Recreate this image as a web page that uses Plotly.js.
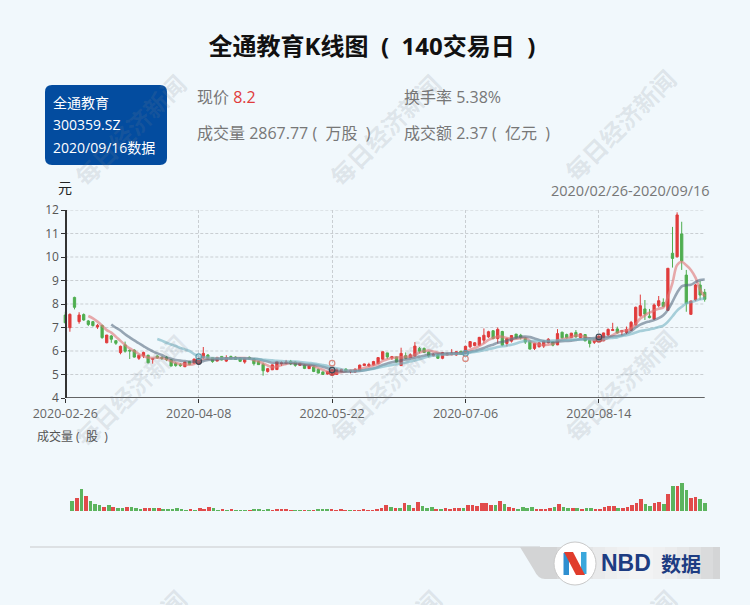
<!DOCTYPE html>
<html><head><meta charset="utf-8">
<script src="https://cdn.plot.ly/plotly-3.0.1.min.js"></script>
<style>html,body{margin:0;padding:0;background:#f1f8fc}#c{width:750px;height:605px}</style>
</head><body><div id="c"></div>
<script>
const tickIdx=[0,29,58,87,116];
const tickLabels=['2020-02-26','2020-04-08','2020-05-22','2020-07-06','2020-08-14'];
const priceTicks=[4,5,6,7,8,9,10,11,12];
const open=[7.53,6.99,8.28,7.25,7.55,7.28,7.25,7.02,7.09,6.35,6.64,6.44,5.93,6.26,6.03,6.04,5.69,5.79,5.82,5.65,
5.79,5.73,5.74,5.63,5.47,5.42,5.33,5.55,5.48,5.48,5.72,5.83,5.72,5.57,5.77,5.57,5.77,5.74,5.7,5.53,
5.73,5.67,5.55,5.43,5.13,5.2,5.21,5.46,5.48,5.56,5.53,5.39,5.4,5.25,5.32,5.22,5.11,5.02,4.98,5.0,
5.12,5.23,5.13,5.11,5.16,5.38,5.36,5.4,5.46,5.65,5.92,5.7,5.75,5.38,5.8,5.72,5.79,6.11,6.11,5.96,
5.8,5.84,5.69,5.83,5.84,5.83,5.99,5.9,6.18,6.23,6.25,6.46,6.6,6.86,6.53,6.83,6.32,6.42,6.72,6.67,
6.53,6.43,6.11,6.18,6.21,6.35,6.39,6.26,6.8,6.7,6.57,6.79,6.57,6.7,6.46,6.37,6.4,6.43,6.68,6.87,
6.94,6.82,6.79,6.88,7.11,7.5,7.79,7.49,7.36,7.93,8.07,7.73,10.16,10.01,10.98,9.23,7.56,8.17,8.81,8.5];
const high=[7.67,7.6,8.31,7.65,7.6,7.32,7.28,7.15,7.12,6.68,6.68,6.44,6.23,6.4,6.07,6.07,5.82,5.97,5.84,5.67,
5.82,5.77,5.79,5.65,5.52,5.49,5.53,5.55,5.66,5.7,6.17,5.87,5.74,5.73,5.78,5.82,5.8,5.77,5.73,5.7,
5.77,5.7,5.57,5.5,5.28,5.43,5.58,5.56,5.62,5.62,5.55,5.5,5.42,5.37,5.35,5.25,5.13,5.14,5.25,5.25,
5.24,5.26,5.2,5.25,5.42,5.46,5.5,5.58,5.72,5.97,5.92,5.79,5.76,6.14,5.94,5.9,6.38,6.17,6.15,5.97,
5.9,5.87,5.96,5.92,6.08,5.99,6.0,6.22,6.42,6.38,6.6,6.96,6.86,6.89,7.0,6.86,6.57,6.67,6.72,6.73,
6.57,6.45,6.35,6.37,6.44,6.55,6.39,6.93,6.82,6.74,6.77,6.89,6.75,6.72,6.46,6.5,6.7,6.78,6.96,7.2,
7.04,6.87,7.04,7.28,7.89,8.4,8.17,7.79,8.03,8.34,8.24,9.52,11.28,11.9,11.5,9.45,8.13,8.85,8.98,8.64];
const low=[7.18,6.82,7.77,7.16,7.29,7.06,7.04,6.94,6.52,6.33,6.35,6.26,5.86,5.93,5.66,5.72,5.62,5.7,5.47,5.46,
5.67,5.62,5.57,5.35,5.33,5.32,5.32,5.4,5.46,5.42,5.66,5.65,5.5,5.57,5.6,5.53,5.65,5.63,5.53,5.46,
5.62,5.38,5.42,4.95,5.08,5.19,5.19,5.36,5.43,5.4,5.33,5.38,5.23,5.24,5.1,5.05,4.99,5.0,4.97,4.99,
5.1,5.11,5.05,5.1,5.15,5.37,5.33,5.38,5.45,5.62,5.66,5.62,5.52,5.38,5.65,5.7,5.76,5.9,5.92,5.73,
5.77,5.66,5.65,5.8,5.82,5.8,5.84,5.88,6.12,6.2,6.22,6.32,6.56,6.5,6.32,6.2,6.2,6.36,6.5,6.49,
6.3,6.07,6.04,6.15,6.13,6.32,6.2,6.25,6.53,6.53,6.55,6.57,6.55,6.42,6.15,6.3,6.38,6.42,6.65,6.85,
6.74,6.65,6.72,6.85,7.08,7.46,7.32,7.39,7.32,7.86,7.86,7.7,9.55,9.98,9.45,7.67,7.54,8.12,8.17,8.1];
const close=[7.2,7.56,7.86,7.53,7.32,7.13,7.08,7.09,6.57,6.68,6.5,6.33,6.2,5.99,6.0,5.74,5.82,5.94,5.5,5.67,
5.7,5.69,5.63,5.36,5.38,5.38,5.53,5.43,5.66,5.65,5.9,5.67,5.55,5.73,5.62,5.72,5.67,5.64,5.56,5.7,
5.66,5.46,5.42,5.16,5.25,5.41,5.55,5.5,5.53,5.45,5.39,5.48,5.26,5.36,5.13,5.06,5.0,5.12,5.16,5.23,
5.22,5.13,5.18,5.23,5.4,5.45,5.43,5.55,5.72,5.97,5.75,5.76,5.53,5.9,5.69,5.84,6.21,5.99,5.94,5.79,
5.86,5.69,5.93,5.89,5.91,5.97,5.86,6.2,6.4,6.35,6.58,6.67,6.82,6.53,6.92,6.25,6.53,6.66,6.56,6.57,
6.38,6.08,6.32,6.35,6.42,6.5,6.25,6.74,6.56,6.56,6.76,6.6,6.73,6.43,6.32,6.5,6.61,6.77,6.92,6.91,
6.77,6.87,6.92,7.22,7.86,7.93,7.57,7.42,7.96,8.14,7.89,9.52,9.94,11.79,9.83,8.03,8.13,8.81,8.38,8.2];
const ma5=[null,null,null,null,null,7.49,7.39,7.25,7.08,6.89,6.78,6.61,6.43,6.26,6.11,6.0,5.87,5.79,5.72,5.7,
5.72,5.7,5.65,5.57,5.5,5.45,5.43,5.42,5.45,5.57,5.66,5.67,5.68,5.67,5.68,5.68,5.69,5.7,5.7,5.7,
5.68,5.62,5.56,5.47,5.38,5.31,5.34,5.4,5.45,5.5,5.49,5.48,5.44,5.41,5.36,5.27,5.2,5.13,5.1,5.08,
5.1,5.14,5.17,5.18,5.21,5.28,5.33,5.38,5.45,5.58,5.65,5.7,5.73,5.73,5.75,5.76,5.84,5.93,6.0,6.02,
5.98,5.93,5.87,5.84,5.87,5.9,5.91,5.96,6.05,6.12,6.22,6.33,6.47,6.55,6.62,6.6,6.55,6.52,6.52,6.55,
6.55,6.43,6.35,6.28,6.25,6.27,6.31,6.42,6.5,6.54,6.59,6.66,6.65,6.6,6.52,6.47,6.43,6.48,6.56,6.68,
6.78,6.85,6.88,6.95,7.15,7.38,7.52,7.63,7.72,7.8,7.85,8.3,8.9,9.66,9.8,9.65,9.45,9.12,8.6,8.32];
const ma10=[null,null,null,null,null,null,null,null,null,null,7.13,6.99,6.87,6.71,6.58,6.45,6.33,6.21,6.09,5.99,
5.9,5.83,5.73,5.67,5.62,5.59,5.57,5.55,5.55,5.54,5.57,5.62,5.63,5.65,5.67,5.68,5.68,5.69,5.69,5.68,
5.68,5.67,5.65,5.6,5.55,5.5,5.5,5.49,5.49,5.49,5.47,5.44,5.42,5.41,5.41,5.38,5.33,5.27,5.19,5.15,
5.13,5.12,5.12,5.13,5.15,5.18,5.22,5.26,5.32,5.41,5.47,5.52,5.56,5.6,5.64,5.67,5.71,5.76,5.8,5.84,
5.87,5.88,5.89,5.9,5.9,5.9,5.9,5.91,5.96,6.0,6.06,6.13,6.21,6.27,6.35,6.39,6.44,6.5,6.56,6.6,
6.61,6.59,6.53,6.47,6.42,6.4,6.38,6.4,6.42,6.43,6.44,6.47,6.5,6.52,6.54,6.55,6.58,6.59,6.6,6.62,
6.64,6.67,6.74,6.84,7.0,7.12,7.2,7.26,7.32,7.4,7.52,7.75,8.1,8.48,8.75,8.8,8.82,8.93,9.02,9.04];
const ma20=[null,null,null,null,null,null,null,null,null,null,null,null,null,null,null,null,null,null,null,null,
6.51,6.44,6.35,6.28,6.21,6.13,6.07,6.0,5.87,5.77,5.74,5.72,5.7,5.69,5.68,5.68,5.68,5.68,5.68,5.68,
5.67,5.66,5.66,5.63,5.62,5.6,5.58,5.57,5.56,5.55,5.55,5.53,5.51,5.49,5.47,5.44,5.4,5.36,5.3,5.26,
5.22,5.18,5.17,5.16,5.16,5.18,5.21,5.25,5.29,5.33,5.37,5.41,5.44,5.47,5.51,5.55,5.6,5.65,5.71,5.77,
5.8,5.82,5.84,5.85,5.87,5.88,5.89,5.9,5.93,5.96,5.99,6.03,6.08,6.12,6.17,6.2,6.23,6.27,6.32,6.38,
6.42,6.42,6.42,6.42,6.42,6.43,6.44,6.46,6.47,6.47,6.48,6.49,6.49,6.5,6.5,6.49,6.48,6.5,6.54,6.56,
6.58,6.64,6.67,6.72,6.79,6.85,6.88,6.92,6.96,7.02,7.08,7.25,7.48,7.72,7.88,8.03,8.08,8.14,8.2,8.24];
const volume=[3875,4750,8250,5375,3750,2500,2250,1375,2250,1625,1125,1250,1500,1375,1250,875,1000,1250,1250,1000,
750,750,625,1000,625,500,750,500,1000,875,1625,1000,500,625,500,625,500,375,500,500,
625,875,500,875,500,875,875,875,500,375,375,375,500,375,750,875,750,625,500,875,
500,375,375,375,875,500,500,750,1250,2125,1625,1125,1125,3125,2125,1250,3375,1750,1125,1375,
750,750,1000,750,1250,1250,1125,2125,2250,1750,2875,2875,2250,2125,3625,2500,1500,1250,875,1375,
1000,1375,875,750,875,1000,1375,2500,1500,1125,1125,1125,750,1000,1000,625,625,1375,1750,1875,
1250,1125,1375,2250,3000,4500,2625,2000,2875,3250,2500,6375,9250,9250,10375,7750,4750,5125,4375,2868];
const ringIdx5=[29,58,116], ringVal5=[5.57,5.08,6.5];
const ringIdx10=[29,58,116], ringVal10=[5.55,5.19,6.6];
const ringIdx20=[29,87], ringVal20=[5.76,5.9];
const ringIdxExtra=[58,87], ringValExtra=[5.48,5.67];

const RED='#e03c3c', GREEN='#4fae50', W=750, H=605;
const days=close.map((_,i)=>i);
const px=x=>x/W, py=y=>1-y/H;

const lineTrace=(y,c)=>({type:'scatter',mode:'lines',x:days,y:y,xaxis:'x',yaxis:'y',hoverinfo:'skip',connectgaps:false,
  line:{color:c,width:2.6,shape:'spline',smoothing:1}});
const ringTrace=(x,y,c)=>({type:'scatter',mode:'markers',x:x,y:y,xaxis:'x',yaxis:'y',hoverinfo:'skip',
  marker:{symbol:'circle-open',size:5.5,color:c,line:{color:c,width:1.2}}});
const traces=[
 {type:'candlestick',x:days,open:open,high:high,low:low,close:close,xaxis:'x',yaxis:'y',hoverinfo:'skip',whiskerwidth:0,
  increasing:{line:{color:RED,width:1},fillcolor:RED},decreasing:{line:{color:GREEN,width:1},fillcolor:GREEN}},
 lineTrace(ma5,'rgba(222,120,120,0.62)'),
 lineTrace(ma10,'rgba(85,105,125,0.58)'),
 lineTrace(ma20,'rgba(120,180,195,0.62)'),
 ringTrace(ringIdx5,ringVal5,'#c05050'),
 ringTrace(ringIdx10,ringVal10,'#3d4b58'),
 ringTrace(ringIdx20,ringVal20,'#5f9fae'),
 ringTrace(ringIdxExtra,ringValExtra,'#d98a80'),
 {type:'bar',x:days,y:volume,xaxis:'x2',yaxis:'y2',hoverinfo:'skip',width:0.8,
  marker:{color:close.map((c,i)=>c>=open[i]?RED:GREEN),opacity:0.92,line:{width:0}}}
];

const shapes=[];
priceTicks.slice(1).forEach(v=>shapes.push({type:'line',layer:'below',xref:'x',yref:'y',x0:0,x1:139,y0:v,y1:v,
  line:{color:'#c9ced2',width:1,dash:'3px,2px'}}));
shapes.push({type:'line',xref:'x',yref:'y',x0:0,x1:139,y0:4,y1:4,line:{color:'#333',width:1.5}});
const pathBox=(l,t,r,b,rad)=>{const L=px(l),R=px(r),T=py(t),B=py(b),rx=rad/W,ry=rad/H;
  return `M${L+rx},${T} L${R-rx},${T} Q${R},${T} ${R},${T-ry} L${R},${B+ry} Q${R},${B} ${R-rx},${B} L${L+rx},${B} Q${L},${B} ${L},${B+ry} L${L},${T-ry} Q${L},${T} ${L+rx},${T} Z`;};
const paperShape=o=>Object.assign({xref:'paper',yref:'paper',layer:'below',line:{width:0}},o);
shapes.push(paperShape({type:'path',path:pathBox(45,85,167,165,7),fillcolor:'#034c9f'}));
shapes.push(paperShape({type:'line',x0:px(30),x1:px(540),y0:py(547),y1:py(547),line:{color:'#dde1e4',width:2}}));
shapes.push(paperShape({type:'path',path:`M${px(520)},${py(547)} L${px(545)},${py(547)} L${px(545)},${py(579)} Q${px(538)},${py(579)} ${px(534)},${py(570)} Z`,fillcolor:'#d3d4d5'}));
const bandColors=['#d3d4d5','#d9dadb','#dfe0e1','#e4e5e6','#e9eaeb','#edeeef','#f0f1f2','#f2f3f4','#f2f3f4','#eff0f1','#ebeced','#e6e7e8','#e0e1e2','#dadbdc','#d4d5d6'];
bandColors.forEach((c,i)=>{const a=545+i*12,b=a+12.5;
  shapes.push(paperShape({type:'rect',x0:px(a),x1:px(Math.min(b,720)),y0:py(547),y1:py(579),fillcolor:c}));});
shapes.push(paperShape({type:'circle',x0:px(554),x1:px(596),y0:py(542),y1:py(585),fillcolor:'#ffffff',line:{color:'#c9c9c9',width:1}}));
shapes.push(paperShape({type:'path',path:`M${px(563.5)},${py(553)} L${px(569)},${py(553)} L${px(569)},${py(575)} L${px(563.5)},${py(575)} Z`,fillcolor:'#2f8fd0'}));
shapes.push(paperShape({type:'path',path:`M${px(581)},${py(552)} L${px(586.5)},${py(552)} L${px(586.5)},${py(574)} L${px(581)},${py(574)} Z`,fillcolor:'#3aa7dc'}));
shapes.push(paperShape({type:'path',path:`M${px(564)},${py(552)} L${px(573)},${py(552)} L${px(585)},${py(575)} L${px(576)},${py(575)} Z`,fillcolor:'#e03c2c'}));

const CN='"Open Sans","Noto Sans CJK SC",sans-serif';
const sp='\u00a0';
const lp=sp+'('+sp+sp, rp=sp+sp+')';
const note=(x,y,text,size,color,extra)=>Object.assign({xref:'paper',yref:'paper',x:px(x),y:py(y),text:text,showarrow:false,borderpad:0,borderwidth:0,
  xanchor:'left',yanchor:'middle',align:'left',font:{family:CN,size:size,color:color}},extra||{});
const annotations=[];
[[130,130],[385,130],[620,125],[130,390],[385,385],[620,385],[130,645],[385,645],[620,645]].forEach(p=>{
  annotations.push({xref:'paper',yref:'paper',x:px(p[0]),y:py(p[1]),text:'每日经济新闻',showarrow:false,textangle:-45,
    xanchor:'center',yanchor:'middle',font:{family:'"Noto Sans CJK SC",sans-serif',size:24,weight:700,color:'rgba(120,130,140,0.17)'}});
});
annotations.push(
 note(53,103,'全通教育',14,'#fff'),
 note(53,125,'300359.SZ',14,'#fff'),
 note(53,148,'2020/09/16数据',14,'#fff'),
 note(197,97,'现价 <span style="color:#e03c3c">8.2</span>',16,'#777'),
 note(404,97,'换手率 5.38%',16,'#777'),
 note(197,133,'成交量 2867.77'+lp+'万股'+rp,16,'#777'),
 note(404,133,'成交额 2.37'+lp+'亿元'+rp,16,'#777'),
 note(58,188,'元',14,'#222'),
 note(710,190,'2020/02/26-2020/09/16',14.5,'#777',{xanchor:'right'}),
 note(37,436,'成交量'+lp+'股'+rp,12,'#555'),
 note(601,563,'<b>NBD</b>',24,'#1d3c82',{font:{family:'"Liberation Sans",sans-serif',size:23,color:'#1d3c82'}}),
 note(661,563,'<b>数据</b>',20,'#1d3c82',{font:{family:'"Noto Sans CJK SC",sans-serif',size:20,color:'#1d3c82'}})
);

const layout={width:W,height:H,margin:{l:0,r:0,t:0,b:0},paper_bgcolor:'#f1f8fc',plot_bgcolor:'rgba(0,0,0,0)',showlegend:false,
 boxgap:0.3,bargap:0,
 title:{text:'<b>全通教育K线图'+sp+sp+'('+sp+sp+'140交易日'+sp+sp+')</b>',x:372/W,xanchor:'center',y:py(47),yanchor:'middle',font:{family:CN,size:24,color:'#111'}},
 xaxis:{domain:[px(60.7),px(709.3)],range:[-1,140],anchor:'y',rangeslider:{visible:false},tickmode:'array',tickvals:tickIdx,ticktext:tickLabels,
   showgrid:true,gridcolor:'#c9ced2',griddash:'3px,2px',gridwidth:1,zeroline:false,showline:false,ticks:'outside',ticklen:4,tickcolor:'#333',
   tickfont:{family:CN,size:12.5,color:'#666'}},
 yaxis:{domain:[py(398),py(210)],range:[4,12],anchor:'free',position:px(65.3),tickmode:'array',tickvals:priceTicks,showgrid:false,zeroline:false,
   showline:true,linecolor:'#333',linewidth:1.5,ticks:'outside',ticklen:4,tickcolor:'#333',tickfont:{family:CN,size:12,color:'#555'}},
 xaxis2:{domain:[px(60.7),px(709.3)],range:[-2.55,140.01],anchor:'y2',visible:false},
 yaxis2:{domain:[py(511),py(483)],range:[0,10375],anchor:'x2',visible:false},
 shapes:shapes,annotations:annotations};
Plotly.newPlot('c',traces,layout,{displayModeBar:false,staticPlot:true});
</script></body></html>
